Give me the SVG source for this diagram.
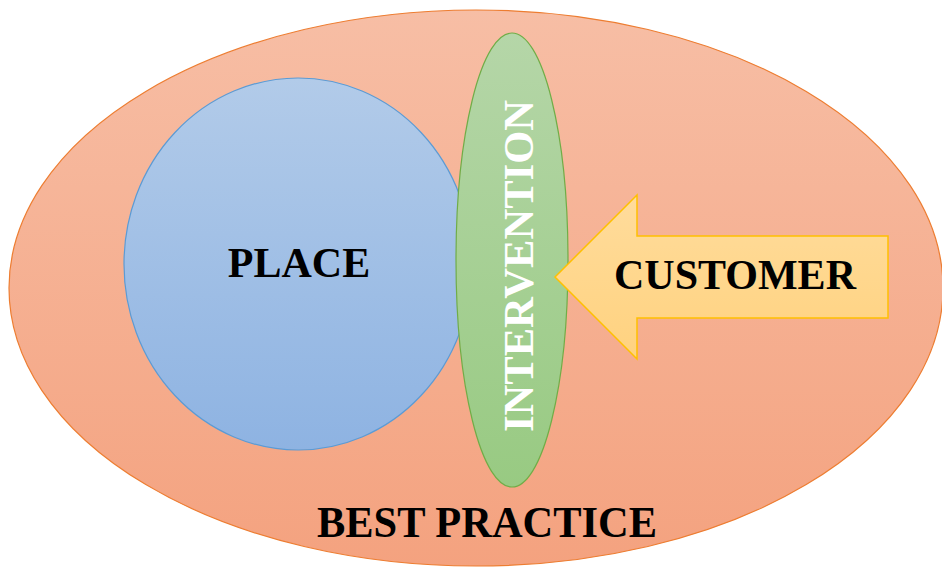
<svg xmlns="http://www.w3.org/2000/svg" width="942" height="567" viewBox="0 0 942 567">
  <defs>
    <linearGradient id="gOuter" x1="0" y1="0" x2="0" y2="1">
      <stop offset="0" stop-color="#F7BEA5"/>
      <stop offset="1" stop-color="#F4A27F"/>
    </linearGradient>
    <linearGradient id="gPlace" x1="0" y1="0" x2="0" y2="1">
      <stop offset="0" stop-color="#B2CBE9"/>
      <stop offset="1" stop-color="#8EB3E2"/>
    </linearGradient>
    <linearGradient id="gInter" x1="0" y1="0" x2="0" y2="1">
      <stop offset="0" stop-color="#B5D6A8"/>
      <stop offset="1" stop-color="#98CA82"/>
    </linearGradient>
    <linearGradient id="gCust" x1="0" y1="0" x2="0" y2="1">
      <stop offset="0" stop-color="#FFDC9C"/>
      <stop offset="1" stop-color="#FFD27F"/>
    </linearGradient>
  </defs>
  <style>
    .lbl { font-family: "Liberation Serif", "Times New Roman", serif; font-weight: bold; text-anchor: middle; }
    .dark { fill: #000000; }
    .light { fill: #FFFFFF; }
  </style>

  <g id="best-practice">
    <ellipse cx="476" cy="288" rx="467" ry="278" fill="url(#gOuter)" stroke="#ED7D31" stroke-width="1.2"/>
    <text class="lbl dark" x="487" y="537" font-size="44" textLength="340" lengthAdjust="spacingAndGlyphs">BEST PRACTICE</text>
  </g>

  <g id="place">
    <ellipse cx="298" cy="264" rx="174" ry="186" fill="url(#gPlace)" stroke="#5B9BD5" stroke-width="1.2"/>
    <text class="lbl dark" x="299" y="277" font-size="42">PLACE</text>
  </g>

  <g id="intervention">
    <ellipse cx="512" cy="260" rx="56" ry="227" fill="url(#gInter)" stroke="#70AD47" stroke-width="1.2"/>
    <text class="lbl light" transform="translate(533,266) rotate(-90)" font-size="43" textLength="332" lengthAdjust="spacingAndGlyphs">INTERVENTION</text>
  </g>

  <g id="customer">
    <polygon points="555,277 637,195 637,236 888,236 888,318 637,318 637,359" fill="url(#gCust)" stroke="#FFC000" stroke-width="1.5" stroke-linejoin="miter"/>
    <text class="lbl dark" x="735" y="289" font-size="42">CUSTOMER</text>
  </g>

  <g id="connectors"></g>
</svg>
